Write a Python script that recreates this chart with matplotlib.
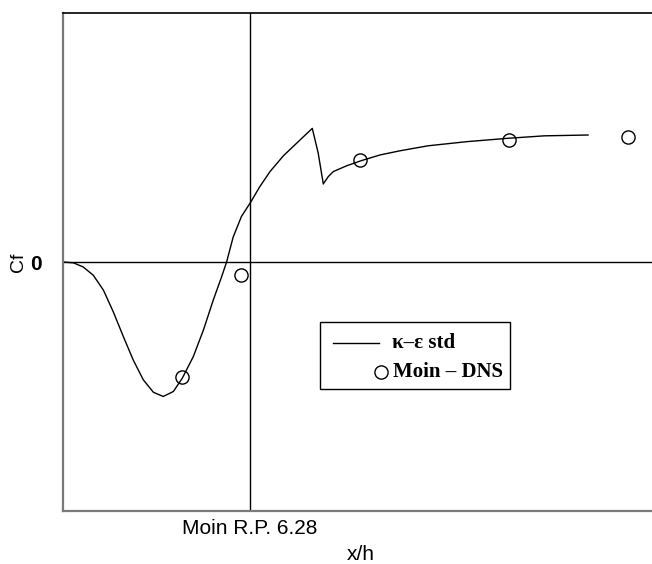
import matplotlib
matplotlib.use("Agg")
import matplotlib.pyplot as plt
from matplotlib.lines import Line2D
from matplotlib.patches import Rectangle

# k-epsilon std model: x/h and Cf (scaled units)
ke_x = [0.0, 0.35, 0.68, 1.02, 1.36, 1.69, 2.03, 2.36, 2.70, 3.04, 3.37, 3.71,
        4.01, 4.38, 4.72, 5.05, 5.33, 5.50, 5.72, 6.0, 6.29, 6.62, 6.96, 7.41,
        7.85, 8.38, 8.58, 8.75, 8.92, 9.09, 9.54, 10.02, 10.66, 11.33, 12.27,
        13.58, 14.94, 16.18, 17.65]
ke_cf = [0.0, -0.01, -0.06, -0.16, -0.34, -0.60, -0.90, -1.18, -1.42, -1.57,
         -1.62, -1.56, -1.40, -1.14, -0.82, -0.46, -0.18, 0.0, 0.30, 0.55, 0.71,
         0.91, 1.09, 1.28, 1.43, 1.61, 1.31, 0.94, 1.03, 1.09, 1.16, 1.22, 1.29,
         1.34, 1.40, 1.45, 1.49, 1.52, 1.53]

# Moin DNS data
dns_x = [4.0, 5.98, 10.0, 15.0, 19.0]
dns_cf = [-1.38, -0.16, 1.23, 1.47, 1.51]

reattach_x = 6.28
reattach_label = "Moin R.P. 6.28"

W, H = 652, 564
fig = plt.figure(figsize=(W / 100, H / 100), dpi=100)
ax = fig.add_axes([63 / W, 1 - 511 / H, 589 / W, 498 / H])

ax.plot(ke_x, ke_cf, color="black", lw=1.0, solid_joinstyle="round")
ax.plot(dns_x, dns_cf, linestyle="none", marker="o", markersize=9.5,
        markerfacecolor="none", markeredgecolor="black", markeredgewidth=1.0)

ax.axhline(0, color="black", lw=1.0)
ax.axvline(reattach_x, color="black", lw=1.0)

ax.set_xlim(0, 19.8)
ax.set_ylim(-3, 3)

ax.spines["right"].set_visible(False)
ax.spines["top"].set_color("black")
ax.spines["top"].set_linewidth(1.2)
for s in ("left", "bottom"):
    ax.spines[s].set_color("#7a7a7a")
    ax.spines[s].set_linewidth(1.6)

ax.set_xticks([reattach_x])
ax.set_xticklabels([reattach_label], family="Liberation Sans", fontsize=15)
ax.set_yticks([0])
ax.set_yticklabels(["0"], family="Liberation Sans", fontsize=15, fontweight="bold")
ax.tick_params(axis="x", length=0, pad=6)
ax.tick_params(axis="y", length=0, pad=15)

fig.text(18 / W, 1 - 262 / H, "Cf", rotation=90, ha="center", va="center",
         family="Liberation Sans", fontsize=14)
fig.text(361 / W, 1 - 554 / H, "x/h", ha="center", va="center",
         family="Liberation Sans", fontsize=15)

# custom legend box (axes fraction)
def fx(px):
    return (px - 63) / 589
def fy(py):
    return (511 - py) / 498

ax.add_patch(Rectangle((fx(320), fy(389)), fx(510) - fx(320), fy(322) - fy(389),
                       transform=ax.transAxes, facecolor="white", edgecolor="black",
                       lw=1.0, zorder=5))
ax.add_line(Line2D([fx(333), fx(379)], [fy(343), fy(343)], transform=ax.transAxes,
                   color="black", lw=1.0, zorder=6))
ax.text(fx(392), fy(343), "κ–ε std", transform=ax.transAxes, ha="left", va="center",
        family="Liberation Serif", fontweight="bold", fontsize=15, zorder=6)
ax.add_line(Line2D([fx(381)], [fy(372)], transform=ax.transAxes, marker="o",
                   markersize=9.5, markerfacecolor="none", markeredgecolor="black",
                   markeredgewidth=1.0, linestyle="none", zorder=6))
ax.text(fx(393), fy(372), "Moin – DNS", transform=ax.transAxes, ha="left", va="center",
        family="Liberation Serif", fontweight="bold", fontsize=15, zorder=6)

fig.savefig("out.png", dpi=100)
